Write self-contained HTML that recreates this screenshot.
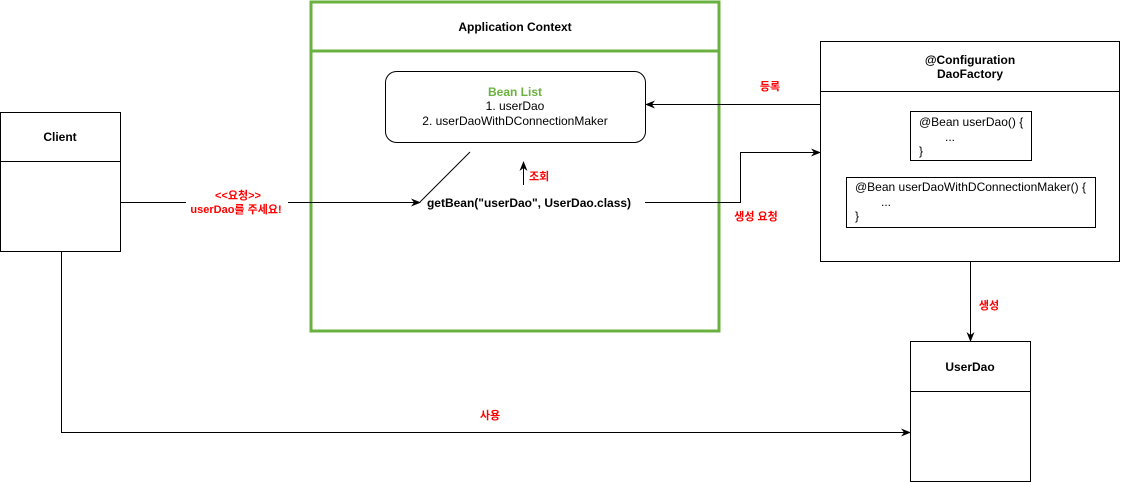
<!DOCTYPE html>
<html><head><meta charset="utf-8"><style>
html,body{margin:0;padding:0;background:#fff;}
svg{display:block;font-family:"Liberation Sans","Noto Sans CJK KR",sans-serif;}
.b{font-weight:bold;font-size:12px;}
.r{fill:#ff0000;font-weight:bold;font-size:11px;}
.n{font-size:12px;}
</style></head><body>
<svg width="1121" height="482" viewBox="0 0 1121 482" xmlns="http://www.w3.org/2000/svg">
<defs><marker id="a" markerWidth="10" markerHeight="8" refX="9" refY="4" orient="auto" markerUnits="userSpaceOnUse"><path d="M0,0 L10,4 L0,8 L3,4 Z" fill="#000"/></marker></defs>
<g fill="none" stroke="#000" stroke-width="1">
<rect x="0.5" y="112.5" width="120" height="139" fill="#fff"/>
<line x1="0.5" y1="161.5" x2="120.5" y2="161.5"/>
<rect x="820.5" y="41.5" width="299" height="220" fill="#fff"/>
<line x1="820.5" y1="91.5" x2="1119.5" y2="91.5"/>
<rect x="910.5" y="111.5" width="121" height="49"/>
<rect x="846.5" y="177.5" width="249" height="50"/>
<rect x="910.5" y="341.5" width="120" height="140" fill="#fff"/>
<line x1="910.5" y1="391.5" x2="1030.5" y2="391.5"/>
</g>
<rect x="311" y="2" width="408" height="329" fill="#fff" stroke="#6ab23f" stroke-width="3"/>
<line x1="311" y1="51" x2="719" y2="51" stroke="#6ab23f" stroke-width="3"/>
<rect x="385.5" y="71.5" width="260" height="71" rx="11" fill="#fff" stroke="#000"/>
<g fill="none" stroke="#000" stroke-width="1">
<line x1="121" y1="202.5" x2="420" y2="202.5" marker-end="url(#a)"/>
<line x1="470" y1="152" x2="420" y2="202"/>
<line x1="523.5" y1="185" x2="523.5" y2="162" marker-end="url(#a)"/>
<polyline points="645,202.5 740.5,202.5 740.5,152.5 820,152.5" marker-end="url(#a)"/>
<line x1="820" y1="104.5" x2="646" y2="104.5" marker-end="url(#a)"/>
<line x1="970.5" y1="262" x2="970.5" y2="341" marker-end="url(#a)"/>
<polyline points="61.5,251 61.5,432.5 910,432.5" marker-end="url(#a)"/>
</g>
<rect x="186" y="188" width="102" height="28" fill="#fff"/>
<text x="60" y="141" text-anchor="middle" class="b">Client</text>
<text x="515" y="31" text-anchor="middle" class="b">Application Context</text>
<text x="515" y="96" text-anchor="middle" class="b" fill="#6ab23f">Bean List</text>
<text x="515" y="110" text-anchor="middle" class="n">1. userDao</text>
<text x="515" y="125" text-anchor="middle" class="n">2. userDaoWithDConnectionMaker</text>
<text x="529" y="207" text-anchor="middle" class="b">getBean("userDao", UserDao.class)</text>
<text x="529" y="180" class="r">조회</text>
<text x="238" y="199" text-anchor="middle" class="r">&lt;&lt;요청&gt;&gt;</text>
<text x="236" y="213" text-anchor="middle" class="r">userDao를 주세요!</text>
<text x="770" y="90" text-anchor="middle" class="r">등록</text>
<text x="756" y="220" text-anchor="middle" class="r">생성 요청</text>
<text x="989" y="309" text-anchor="middle" class="r">생성</text>
<text x="490" y="419" text-anchor="middle" class="r">사용</text>
<text x="970" y="64" text-anchor="middle" class="b">@Configuration</text>
<text x="970" y="78" text-anchor="middle" class="b">DaoFactory</text>
<text x="919" y="126" class="n">@Bean userDao() {</text>
<text x="945" y="141" class="n">...</text>
<text x="919" y="155" class="n">}</text>
<text x="855" y="191" class="n">@Bean userDaoWithDConnectionMaker() {</text>
<text x="881" y="206" class="n">...</text>
<text x="855" y="220" class="n">}</text>
<text x="970" y="371" text-anchor="middle" class="b">UserDao</text>
</svg>
</body></html>
